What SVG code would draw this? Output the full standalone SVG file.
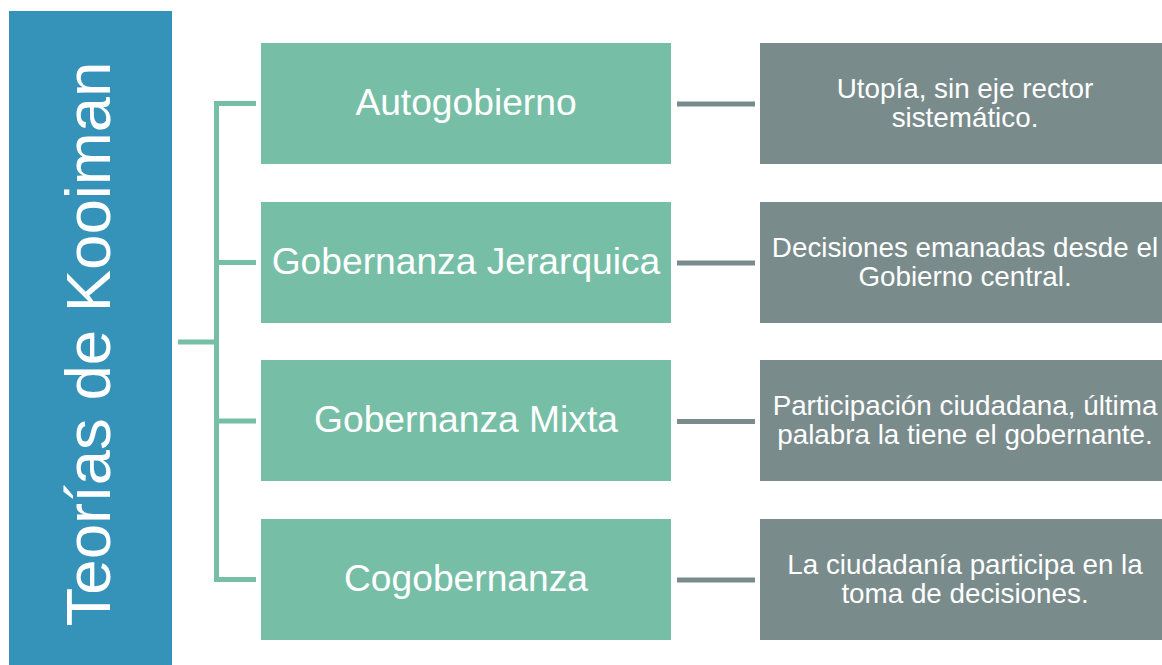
<svg xmlns="http://www.w3.org/2000/svg" width="1162" height="665" viewBox="0 0 1162 665">
<style>
.root{fill:#3592B8}
.cat{fill:#77BEA7}
.desc{fill:#7A8B8C}
.t{font-family:"Liberation Sans",Arial,sans-serif;fill:#FFFFFF;text-anchor:middle}
.ct{font-size:37.2px}
.dt{font-size:27.8px}
.br{stroke:#77BEA7;stroke-width:5;fill:none}
.cn{stroke:#7A8B8C;stroke-width:5;fill:none}
</style>
<rect width="1162" height="665" fill="#FFFFFF"/>
<g id="connectors">
<path class="br" d="M256 103.5 H216.5 V579.5 H256"/>
<path class="br" d="M216.5 262.5 H256 M216.5 421 H256 M178 342 H216.5"/>
<path class="cn" d="M677 104 H755 M677 263 H755 M677 421.5 H755 M677 580 H755"/>
</g>
<g id="root">
<rect class="root" x="9" y="11" width="163" height="654"/>
<text class="t" transform="translate(110,344) rotate(-90)" font-size="63.5">Teorías de Kooiman</text>
</g>
<g id="n1">
<rect class="cat" x="261" y="43" width="410" height="121"/>
<text class="t ct" x="466" y="115">Autogobierno</text>
</g>
<g id="n2">
<rect class="cat" x="261" y="202" width="410" height="121"/>
<text class="t ct" x="466" y="274">Gobernanza Jerarquica</text>
</g>
<g id="n3">
<rect class="cat" x="261" y="360" width="410" height="121"/>
<text class="t ct" x="466" y="432">Gobernanza Mixta</text>
</g>
<g id="n4">
<rect class="cat" x="261" y="519" width="410" height="121"/>
<text class="t ct" x="466" y="591">Cogobernanza</text>
</g>
<g id="d1">
<rect class="desc" x="760" y="43" width="410" height="121"/>
<text class="t dt" x="965" y="98">Utopía, sin eje rector</text>
<text class="t dt" x="965" y="127">sistemático.</text>
</g>
<g id="d2">
<rect class="desc" x="760" y="202" width="410" height="121"/>
<text class="t dt" x="965" y="257">Decisiones emanadas desde el</text>
<text class="t dt" x="965" y="286">Gobierno central.</text>
</g>
<g id="d3">
<rect class="desc" x="760" y="360" width="410" height="121"/>
<text class="t dt" x="965" y="415">Participación ciudadana, última</text>
<text class="t dt" x="965" y="444">palabra la tiene el gobernante.</text>
</g>
<g id="d4">
<rect class="desc" x="760" y="519" width="410" height="121"/>
<text class="t dt" x="965" y="574">La ciudadanía participa en la</text>
<text class="t dt" x="965" y="603">toma de decisiones.</text>
</g>
</svg>
